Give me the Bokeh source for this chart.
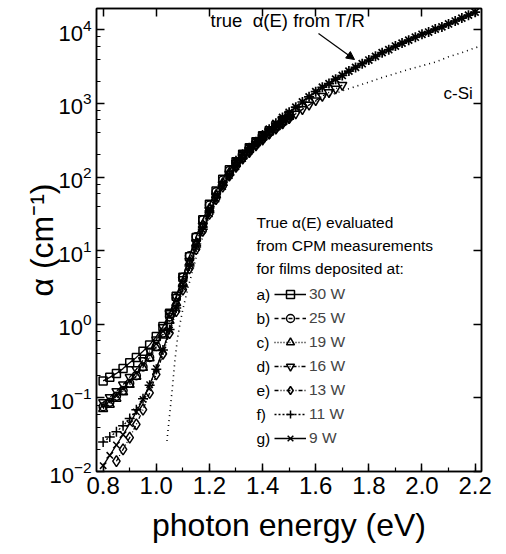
from bokeh.plotting import figure
from bokeh.models import (Legend, LegendItem, Label, Arrow, NormalHead, LinearAxis, LogAxis,
                          SingleIntervalTicker, LogTicker, CustomJSTickFormatter,
                          NumeralTickFormatter)
from bokeh.embed import file_html
from bokeh.resources import INLINE

# ---------------- data ----------------
energy_cpm = [0.800, 0.825, 0.850, 0.875, 0.900, 0.925, 0.950, 0.975, 1.000, 1.025,
              1.050, 1.075, 1.100, 1.125, 1.150, 1.175, 1.200, 1.225, 1.250, 1.275,
              1.300, 1.325, 1.350, 1.375, 1.400, 1.425, 1.450, 1.475, 1.500]

alpha_30W = [0.17, 0.19, 0.215, 0.25, 0.30, 0.355, 0.43, 0.525, 0.68, 0.93,
             1.41, 2.40, 4.37, 8.3, 15.1, 26.3, 42.7, 64.6, 93.3, 126,
             162, 204, 251, 302, 363, 427, 501, 589, 692]
alpha_25W = [0.076, 0.087, 0.105, 0.126, 0.158, 0.200, 0.263, 0.355, 0.50, 0.76,
             1.26, 2.29, 4.37, 8.5, 15.5, 26.3, 41.7, 63.1, 91.2, 123,
             158, 200, 245, 295, 355, 417, 490, 575, 676]
alpha_19W = [0.071, 0.081, 0.098, 0.120, 0.151, 0.195, 0.257, 0.347, 0.479, 0.708,
             1.12, 1.95, 3.63, 6.92, 12.6, 22.4, 37.2, 57.5, 83.2, 115,
             151, 191, 234, 288, 347, 407, 479, 562, 661]

energy_16W = [0.800, 0.825, 0.850, 0.875, 0.900, 0.925, 0.950, 0.975, 1.000, 1.025,
              1.050, 1.075, 1.100, 1.125, 1.150, 1.175, 1.200, 1.225, 1.250, 1.275,
              1.300, 1.325, 1.350, 1.375, 1.400, 1.425, 1.450, 1.475, 1.500, 1.525,
              1.550, 1.575, 1.600, 1.625, 1.650, 1.675, 1.700]
alpha_16W = [0.087, 0.102, 0.123, 0.151, 0.191, 0.245, 0.324, 0.437, 0.617, 0.912,
             1.41, 2.34, 4.07, 7.24, 12.9, 21.9, 35.5, 55.0, 79.4, 110,
             145, 182, 224, 275, 331, 389, 457, 537, 631, 724,
             832, 955, 1096, 1259, 1413, 1585, 1778]

energy_13W = [0.850, 0.875, 0.900, 0.925, 0.950, 0.975, 1.000, 1.025, 1.050, 1.075,
              1.100, 1.125, 1.150, 1.175, 1.200, 1.225, 1.250, 1.275, 1.300, 1.325,
              1.350, 1.375, 1.400, 1.425, 1.450, 1.475, 1.500]
alpha_13W = [0.0138, 0.0200, 0.0288, 0.0437, 0.0692, 0.117, 0.209, 0.398, 0.759, 1.51,
             2.95, 5.75, 10.5, 18.6, 31.6, 50.1, 74.1, 105, 138, 178,
             219, 269, 324, 389, 457, 537, 631]

alpha_11W = [0.0251, 0.0295, 0.0347, 0.0417, 0.0525, 0.0692, 0.0977, 0.148, 0.245, 0.447,
             0.851, 1.66, 3.24, 6.17, 11.2, 19.5, 33.1, 52.5, 77.6, 107,
             141, 182, 224, 275, 331, 398, 468, 550, 646]
alpha_9W = [0.0120, 0.0166, 0.0229, 0.0316, 0.0447, 0.0646, 0.0955, 0.151, 0.251, 0.447,
            0.832, 1.62, 3.16, 6.03, 11.0, 19.1, 31.6, 50.1, 74.1, 105,
            138, 178, 224, 275, 331, 398, 468, 550, 646]

# true alpha(E) from T/R
energy_tr = [1.300, 1.325, 1.350, 1.375, 1.400, 1.425, 1.450, 1.475, 1.500, 1.525,
             1.550, 1.575, 1.600, 1.625, 1.650, 1.675, 1.700, 1.725, 1.750, 1.775,
             1.800, 1.825, 1.850, 1.875, 1.900, 1.925, 1.950, 1.975, 2.000, 2.025,
             2.050, 2.075, 2.100, 2.125, 2.150, 2.175, 2.200]
alpha_tr = [166, 204, 251, 302, 372, 447, 537, 646, 759, 891,
            1047, 1230, 1445, 1660, 1862, 2138, 2399, 2754, 3090, 3467,
            3890, 4365, 4898, 5370, 6026, 6607, 7244, 7943, 8710, 9333,
            10233, 10965, 12023, 13183, 14454, 15849, 17378]

# crystalline silicon reference
energy_si = [1.04, 1.05, 1.06, 1.07, 1.08, 1.09, 1.10, 1.12, 1.15, 1.20,
             1.25, 1.30, 1.35, 1.40, 1.45, 1.50, 1.55, 1.60, 1.65, 1.70,
             1.75, 1.80, 1.85, 1.90, 1.95, 2.00, 2.05, 2.10, 2.15, 2.20, 2.225]
alpha_si = [0.026, 0.058, 0.13, 0.32, 0.65, 1.05, 1.6, 3.2, 8, 30,
            70, 140, 240, 370, 520, 700, 880, 1070, 1280, 1480,
            1700, 1950, 2250, 2550, 2900, 3250, 3650, 4300, 4900, 5700, 6100]

series_tags = ["a)", "b)", "c)", "d)", "e)", "f)", "g)"]
series_labels = ["30 W", "25 W", "19 W", "16 W", "13 W", "11 W", "9 W"]
header_lines = ["True \u03b1(E) evaluated", "from CPM measurements", "for films deposited at:"]

FONT = "Liberation Sans"

p = figure(frame_width=385, frame_height=463, x_range=(0.775, 2.224), y_range=(0.01, 19500),
           y_axis_type="log", output_backend="svg", toolbar_location=None,
           min_border_left=96, min_border_right=13, min_border_top=8, min_border_bottom=75,
           background_fill_color="white", border_fill_color="white")
p.grid.visible = False
p.outline_line_color = "black"
p.outline_line_width = 1.5


def style_axis(ax, labels=True):
    ax.axis_line_color = "black"
    ax.axis_line_width = 1.5
    ax.major_tick_line_color = "black"
    ax.major_tick_line_width = 1.5
    ax.minor_tick_line_color = "black"
    ax.minor_tick_line_width = 1.2
    ax.major_tick_in = 8
    ax.major_tick_out = 0
    ax.minor_tick_in = 4
    ax.minor_tick_out = 0
    ax.major_label_text_font = FONT
    ax.major_label_text_font_size = "22px"
    ax.major_label_text_color = "black"
    ax.axis_label_text_font = FONT
    ax.axis_label_text_font_style = "normal"
    ax.axis_label_text_color = "black"
    if not labels:
        ax.major_label_standoff = 0
        ax.formatter = CustomJSTickFormatter(code="return ''")


xax = p.xaxis[0]
xax.ticker = SingleIntervalTicker(interval=0.2, num_minor_ticks=2)
xax.formatter = NumeralTickFormatter(format="0.0")
style_axis(xax)
xax.major_label_text_font_size = "24px"
xax.major_label_standoff = 5
xax.axis_label = "photon energy (eV)"
xax.axis_label_text_font_size = "32px"
xax.axis_label_standoff = 10

yax = p.yaxis[0]
yax.ticker = LogTicker(desired_num_ticks=8)
style_axis(yax)
yax.major_label_standoff = 5
yax.axis_label = "\u03b1 (cm\u207b\u00b9)"
yax.axis_label_text_font_size = "32px"
yax.axis_label_standoff = -14

top = LinearAxis(ticker=SingleIntervalTicker(interval=0.2, num_minor_ticks=0))
style_axis(top, labels=False)
top.minor_tick_in = 0
p.add_layout(top, "above")

right = LogAxis(ticker=LogTicker(desired_num_ticks=8, num_minor_ticks=0))
style_axis(right, labels=False)
right.minor_tick_in = 0
p.add_layout(right, "right")

# c-Si dotted curve
p.line(energy_si, alpha_si, line_color="black", line_width=1.6, line_dash="1 4")

specs = [
    (energy_cpm, alpha_30W, "square", "solid", 8),
    (energy_cpm, alpha_25W, "circle", "4 3", 8),
    (energy_cpm, alpha_19W, "triangle", "1 2", 9),
    (energy_16W, alpha_16W, "inverted_triangle", "4 2 1 2", 9),
    (energy_13W, alpha_13W, "diamond", "4 2 1 2 1 2", 11),
    (energy_cpm, alpha_11W, "cross", "2 2", 10),
    (energy_cpm, alpha_9W, "x", "solid", 9),
]

items = []
for (ex, ay, mk, dash, sz), lab in zip(specs, series_labels):
    lr = p.line(ex, ay, line_color="black", line_width=1.3, line_dash=dash)
    sr = p.scatter(ex, ay, marker=mk, size=sz, line_color="black", fill_color=None,
                   line_width=1.5)
    items.append(LegendItem(label=lab, renderers=[lr, sr]))

# T/R data
p.scatter(energy_tr, alpha_tr, marker="asterisk", size=10, line_color="black", line_width=1.7)
p.line(energy_tr, alpha_tr, line_color="black", line_width=1.3)

legend = Legend(items=items, location=(178, 23), orientation="vertical",
                glyph_width=32, glyph_height=20, label_height=20, spacing=4,
                padding=0, margin=0, label_standoff=3,
                label_text_font=FONT, label_text_font_size="15.5px",
                border_line_alpha=0, background_fill_alpha=0)
p.add_layout(legend)

for i, tag in enumerate(series_tags):
    p.add_layout(Label(x=160, y=177 - 24 * i, x_units="screen", y_units="screen", text=tag,
                       text_font=FONT, text_font_size="15.5px", text_baseline="middle",
                       text_color="black"))

for i, line in enumerate(header_lines):
    p.add_layout(Label(x=160, y=249 - 23 * i, x_units="screen", y_units="screen", text=line,
                       text_font=FONT, text_font_size="15.5px", text_baseline="middle",
                       text_color="black"))

p.add_layout(Label(x=114, y=451, x_units="screen", y_units="screen",
                   text="true \u00a0\u03b1(E) from T/R", text_font=FONT, text_font_size="18.5px",
                   text_baseline="middle", text_color="black"))
p.add_layout(Label(x=347, y=378, x_units="screen", y_units="screen", text="c-Si",
                   text_font=FONT, text_font_size="17px", text_baseline="middle",
                   text_color="black"))
p.add_layout(Arrow(x_start=222, y_start=438, x_end=258, y_end=412,
                   start_units="screen", end_units="screen",
                   line_color="black", line_width=1.2,
                   end=NormalHead(size=8, fill_color="black", line_color="black")))

open("out.html", "w").write(file_html(p, INLINE))
